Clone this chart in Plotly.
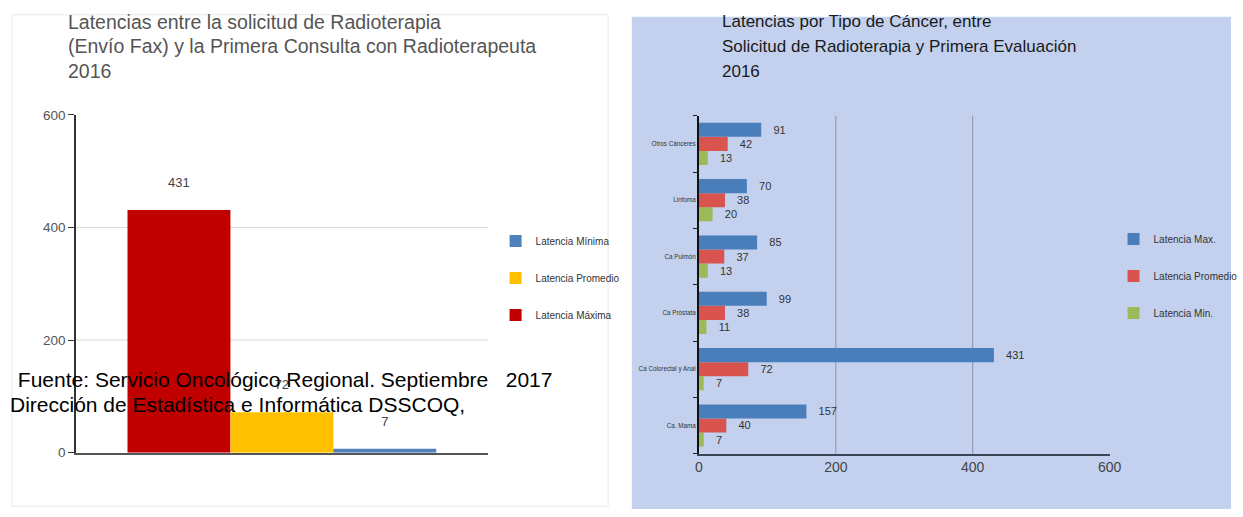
import plotly.graph_objects as go

W, H = 1243, 517

# ---------- data: left chart ----------
LEFT_CATEGORY = ["2016"]
LEFT_SERIES = ["Latencia Máxima", "Latencia Promedio", "Latencia Mínima"]
LEFT_VALUES = [431, 72, 7]
LEFT_COLORS = ["#C00000", "#FFC000", "#4F81BD"]
LEFT_LEGEND_RANK = [3, 2, 1]

# ---------- data: right chart ----------
CANCER_TYPES = ["Ca. Mama", "Ca Colorectal y Anal", "Ca Próstata", "Ca Pulmón", "Linfoma", "Otros Cánceres"]
LAT_MAX = [157, 431, 99, 85, 70, 91]
LAT_PROM = [40, 72, 38, 37, 38, 42]
LAT_MIN = [7, 7, 11, 13, 20, 13]
RIGHT_SERIES = ["Latencia Min.", "Latencia Promedio", "Latencia Max."]
RIGHT_COLORS = ["#9BBB59", "#D9534F", "#4A7EBB"]
RIGHT_LEGEND_RANK = [3, 2, 1]

LEFT_TICKS = [0, 200, 400, 600]
RIGHT_TICKS = [0, 200, 400, 600]
LEFT_GRID = [200, 400]
RIGHT_GRID = [200, 400]

TITLE_LEFT = ["Latencias entre la solicitud de Radioterapia",
              "(Envío Fax) y la Primera Consulta con Radioterapeuta",
              "2016"]
TITLE_RIGHT = ["Latencias por Tipo de Cáncer, entre",
               "Solicitud de Radioterapia y Primera Evaluación",
               "2016"]
SOURCE_LINES = ["\u00a0Fuente: Servicio Oncológico Regional. Septiembre\u00a0\u00a0\u00a02017",
                "Dirección de Estadística e Informática DSSCOQ,"]

FONT = "Liberation Sans, Arial, sans-serif"


def px(x):
    return x / W


def py(y):
    return 1 - y / H


fig = go.Figure()

# left chart traces
for name, val, col, rk in zip(LEFT_SERIES, LEFT_VALUES, LEFT_COLORS, LEFT_LEGEND_RANK):
    fig.add_trace(go.Bar(
        x=LEFT_CATEGORY, y=[val], name=name, marker=dict(color=col, line=dict(width=0)),
        text=[val], texttemplate="%{y}<br>\u00a0", textposition="outside",
        textfont=dict(size=13, color="#444", family=FONT), cliponaxis=False,
        xaxis="x", yaxis="y", legend="legend", legendgroup=name, legendrank=rk,
    ))

# right chart traces
for name, vals, col, rk in zip(RIGHT_SERIES, [LAT_MIN, LAT_PROM, LAT_MAX], RIGHT_COLORS, RIGHT_LEGEND_RANK):
    fig.add_trace(go.Bar(
        y=CANCER_TYPES, x=vals, name=name, orientation="h",
        marker=dict(color=col, line=dict(width=0)),
        text=vals, texttemplate="\u00a0\u00a0\u00a0%{x}", textposition="outside",
        textfont=dict(size=11, color="#333", family=FONT), cliponaxis=False,
        xaxis="x2", yaxis="y2", legend="legend2", legendgroup=name + "_r", legendrank=rk,
    ))

shapes = [
    # left white panel border
    dict(type="rect", xref="paper", yref="paper", x0=px(8), x1=px(612), y0=py(514), y1=py(8),
         line=dict(color="#E8E8E8", width=1), fillcolor="rgba(0,0,0,0)", layer="below"),
    # right blue panel
    dict(type="rect", xref="paper", yref="paper", x0=px(636), x1=1.0, y0=0, y1=py(10),
         line=dict(width=0), fillcolor="#C3D1EE", layer="below"),
]
for g in LEFT_GRID:
    shapes.append(dict(type="line", xref="x domain", yref="y", x0=0, x1=1, y0=g, y1=g,
                       line=dict(color="#D9D9D9", width=1), layer="below"))
for g in RIGHT_GRID:
    shapes.append(dict(type="line", xref="x2", yref="y2 domain", x0=g, x1=g, y0=0, y1=1,
                       line=dict(color="#8893AD", width=1), layer="below"))

annotations = []
for i, line in enumerate(TITLE_LEFT):
    annotations.append(dict(text=line, x=px(63), y=py(15 + 25.5 * i), xref="paper", yref="paper",
                            xanchor="left", yanchor="middle", showarrow=False,
                            font=dict(size=19.5, color="#555", family=FONT)))
for i, line in enumerate(TITLE_RIGHT):
    annotations.append(dict(text=line, x=px(725), y=py(15 + 25.5 * i), xref="paper", yref="paper",
                            xanchor="left", yanchor="middle", showarrow=False,
                            font=dict(size=17, color="#1A1A1A", family=FONT)))
annotations.append(dict(text=SOURCE_LINES[0], x=px(6), y=py(384), xref="paper", yref="paper",
                        xanchor="left", yanchor="middle", showarrow=False,
                        font=dict(size=21, color="#000", family=FONT)))
annotations.append(dict(text=SOURCE_LINES[1], x=px(4), y=py(409), xref="paper", yref="paper",
                        xanchor="left", yanchor="middle", showarrow=False,
                        font=dict(size=21, color="#000", family=FONT)))

fig.update_layout(
    width=W, height=H, autosize=False,
    margin=dict(l=0, r=0, t=0, b=0),
    paper_bgcolor="white", plot_bgcolor="rgba(0,0,0,0)",
    barmode="group", bargap=0.25, bargroupgap=0,
    font=dict(family=FONT, color="#444"),
    showlegend=True,
    xaxis=dict(domain=[px(73), px(490)], showticklabels=False, ticks="",
               showline=True, linecolor="#555", linewidth=2, showgrid=False, zeroline=False,
               anchor="y", fixedrange=True),
    yaxis=dict(domain=[py(459), py(111)], range=[0, 600], tickvals=LEFT_TICKS,
               ticks="outside", ticklen=6, tickcolor="#333", tickwidth=1,
               showline=True, linecolor="#333", linewidth=1.5, showgrid=False, zeroline=False,
               tickfont=dict(size=13.5, color="#555", family=FONT), anchor="x", fixedrange=True),
    xaxis2=dict(domain=[px(704), px(1120)], range=[0, 600], tickvals=RIGHT_TICKS,
                showline=True, linecolor="#3A4558", linewidth=2, showgrid=False, zeroline=False,
                ticks="", tickfont=dict(size=14, color="#444", family=FONT), anchor="y2",
                fixedrange=True),
    yaxis2=dict(domain=[py(460), py(112)], showline=True, linecolor="#111", linewidth=2,
                ticks="outside", tickson="boundaries", ticklen=4, tickcolor="#222",
                tickfont=dict(size=6.3, color="#333", family=FONT), showgrid=False,
                anchor="x2", fixedrange=True),
    legend=dict(x=px(498), y=py(226), xanchor="left", yanchor="top",
                traceorder="grouped", tracegroupgap=18, bgcolor="rgba(0,0,0,0)",
                font=dict(size=10, color="#333", family=FONT)),
    legend2=dict(x=px(1124), y=py(224), xanchor="left", yanchor="top",
                 traceorder="grouped", tracegroupgap=18, bgcolor="rgba(0,0,0,0)",
                 font=dict(size=10, color="#333", family=FONT)),
    shapes=shapes, annotations=annotations,
)

fig.write_html("out.html")
